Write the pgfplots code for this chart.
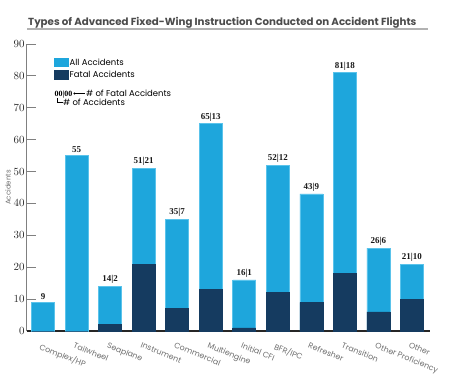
\documentclass[border=0pt]{standalone}
\usepackage{fontspec}
\usepackage{pgfplots}
\pgfplotsset{compat=1.18}
\usetikzlibrary{arrows.meta}
\setmainfont{Poppins}
\newfontfamily\barfont{Liberation Serif}
\newfontfamily\tickfont[FakeStretch=0.85]{Liberation Sans}
\definecolor{allc}{RGB}{30,166,220}
\definecolor{allb}{RGB}{90,195,235}
\definecolor{fatc}{RGB}{21,59,96}
\definecolor{txtgray}{RGB}{110,110,110}
\definecolor{titlec}{RGB}{75,75,75}
\pgfplotstableread{
x all fatal lab
0 9 0 9
1 55 0 55
2 14 2 14|2
3 51 21 51|21
4 35 7 35|7
5 65 13 65|13
6 16 1 16|1
7 52 12 52|12
8 43 9 43|9
9 81 18 81|18
10 26 6 26|6
11 21 10 21|10
}\datatable
\begin{document}
\begin{tikzpicture}[x=1bp,y=1bp]
\useasboundingbox (-27,-49) rectangle (427,331);
\begin{axis}[
  at={(0,0)}, anchor=south west,
  scale only axis, width=403bp, height=287bp,
  xmin=-0.48, xmax=11.54, ymin=0, ymax=90,
  ytick={0,10,...,90},
  xtick={0,...,11},
  xticklabels={Complex/HP,Tailwheel,Seaplane,Instrument,Commercial,Multiengine,Initial CFI,BFR/IPC,Refresher,Transition,Other Proficiency,Other},
  axis x line*=bottom, axis y line*=left,
  x axis line style={-, black!85, line width=1.2bp},
  y axis line style={-, gray, line width=1bp},
  major x tick style={draw=none},
  ytick style={gray, line width=0.8bp},
  tick align=inside, major tick length=9bp,
  yticklabel style={font=\tickfont\fontsize{10.5}{11}\selectfont, text=black!85, xshift=1bp},
  ylabel={Accidents},
  ylabel style={font=\fontsize{7}{8}\selectfont, text=txtgray, yshift=-4bp},
  xticklabel style={rotate=-22, anchor=north west, font=\fontsize{7.9}{8}\selectfont, text=txtgray, xshift=-4bp, yshift=1bp},
  ybar, bar width=23bp, bar shift=0pt,
  legend style={at={(rel axis cs:0.066,0.955)}, anchor=north west, draw=none, fill=none,
    font=\fontsize{8.5}{9}\selectfont, row sep=1.5bp, inner sep=0pt, nodes={inner sep=1.5bp}},
  legend cell align=left,
]
\addlegendimage{legend image code/.code={\fill[allc] (0bp,-4bp) rectangle (14bp,4.5bp);}}
\addlegendentry{All Accidents}
\addlegendimage{legend image code/.code={\fill[fatc] (0bp,-4bp) rectangle (14bp,4.5bp);}}
\addlegendentry{Fatal Accidents}
\addplot[forget plot, fill=allc, draw=allb, line width=0.6bp,
  nodes near coords, point meta=explicit symbolic,
  nodes near coords style={font=\barfont\bfseries\fontsize{9}{10}\selectfont, text=black!90, anchor=south, yshift=-1bp}]
  table[x=x, y=all, meta=lab] {\datatable};
\addplot[forget plot, fill=fatc, draw=fatc, line width=0.6bp] table[x=x, y=fatal] {\datatable};
\end{axis}
% title
\node[anchor=base west, font=\fontsize{10.3}{11}\selectfont\bfseries, text=titlec, inner sep=0pt] at (1,306) {Types of Advanced Fixed-Wing Instruction Conducted on Accident Flights};
\draw[gray!60, line width=1.5bp] (0,302) -- (401,302);
% legend note
\node[anchor=base west, inner sep=0pt, font=\barfont\bfseries\fontsize{8}{9}\selectfont] at (27.5,235) {00|00};
\fill (47.5,237.5) circle (1.1bp);
\draw[line width=0.8bp] (47.5,237.5) -- (58,237.5);
\node[anchor=base west, inner sep=0pt, font=\fontsize{8.5}{9}\selectfont] at (59,235) {\# of Fatal Accidents};
\draw[line width=0.8bp] (30.5,233) -- (30.5,229) -- (36,229);
\node[anchor=base west, inner sep=0pt, font=\fontsize{8.5}{9}\selectfont] at (36,226) {\# of Accidents};
\end{tikzpicture}
\end{document}
